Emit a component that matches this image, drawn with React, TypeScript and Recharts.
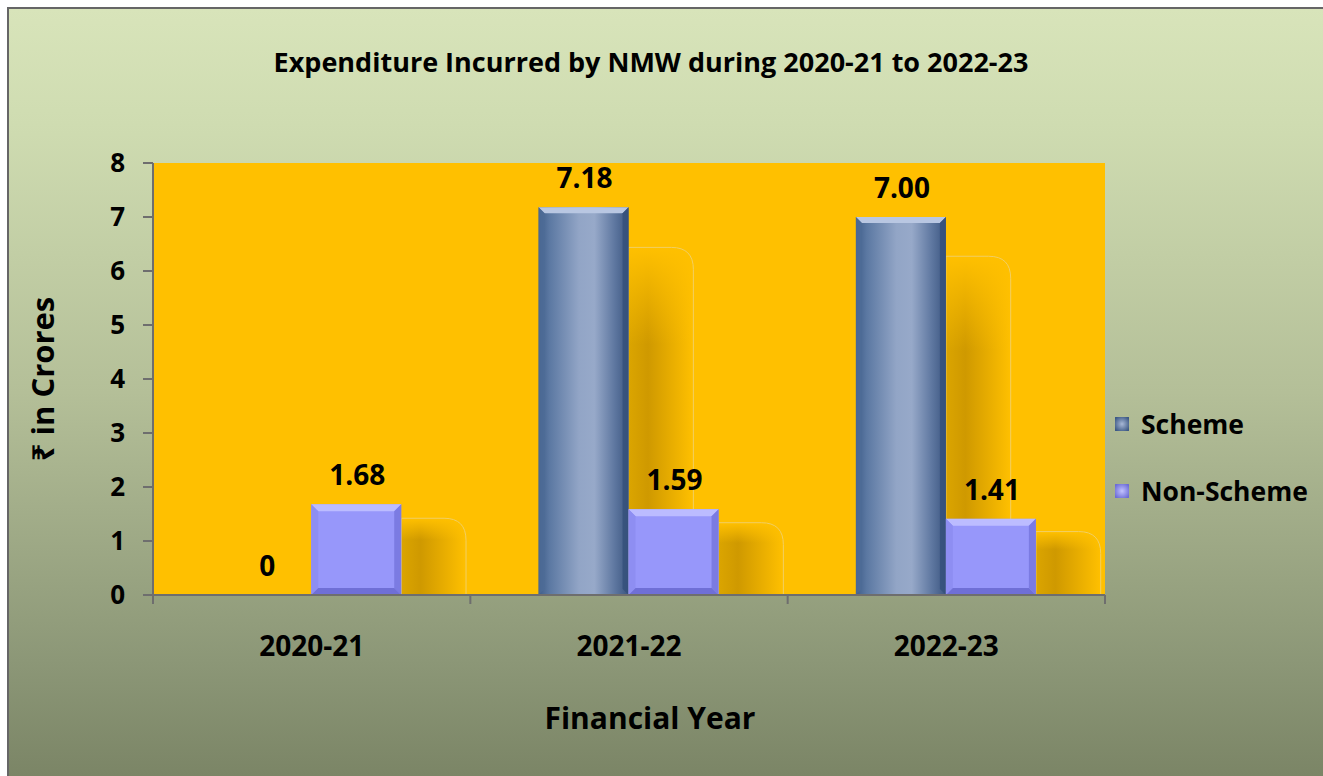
import React from 'react';
import { BarChart, Bar, XAxis, YAxis, CartesianGrid, LabelList, Label } from 'recharts';

const categories = ['2020-21', '2021-22', '2022-23'];
const schemeValues = [0, 7.18, 7.0];
const nonSchemeValues = [1.68, 1.59, 1.41];
const schemeLabels = ['0', '7.18', '7.00'];
const nonSchemeLabels = ['1.68', '1.59', '1.41'];
const yTicks = [0, 1, 2, 3, 4, 5, 6, 7, 8];
const seriesNames = ['Scheme', 'Non-Scheme'];

const data = categories.map((c, i) => ({
  year: c,
  scheme: schemeValues[i],
  nonScheme: nonSchemeValues[i],
}));

const W = 1323;
const H = 776;
const FONT = "'Open Sans', 'Noto Sans', sans-serif";
const MARGIN = { top: 163, right: 218, bottom: 151, left: 93 };
const Y_AXIS_W = 60;
const PLOT_W = W - MARGIN.left - MARGIN.right - Y_AXIS_W;
const HALF_BAND = PLOT_W / categories.length / 2;
const AXIS_COLOR = '#6e6e6e';

function Shadow({ x, y, width, height, id }: any) {
  if (!height || height <= 0) return null;
  const off = 6 + 0.088 * height;
  const sw = width * 0.72;
  const r = Math.min(22, sw * 0.4);
  const x0 = x + width;
  const top = y + off;
  const bot = y + height;
  const d = `M${x0},${top} L${x0 + sw - r},${top} Q${x0 + sw},${top} ${x0 + sw},${top + r} L${x0 + sw},${bot} L${x0},${bot} Z`;
  return (
    <g>
      <defs>
        <linearGradient id={`sh-h-${id}`} x1="0" y1="0" x2="1" y2="0">
          <stop offset="0%" stopColor="#dba500" />
          <stop offset="30%" stopColor="#cf9900" />
          <stop offset="100%" stopColor="#ffc000" />
        </linearGradient>
        <linearGradient id={`sh-v-${id}`} x1="0" y1="0" x2="0" y2="1">
          <stop offset="0%" stopColor="#ffc000" stopOpacity={1} />
          <stop offset="28%" stopColor="#ffc000" stopOpacity={0} />
          <stop offset="100%" stopColor="#ffc000" stopOpacity={0} />
        </linearGradient>
      </defs>
      <path d={d} fill={`url(#sh-h-${id})`} />
      <path d={d} fill={`url(#sh-v-${id})`} stroke="#f2cf63" strokeWidth={1} />
    </g>
  );
}

function SchemeShape(props: any) {
  const { x, y, width, height, index } = props;
  if (!height || height <= 0) return null;
  const b = 6;
  const id = `s${index}`;
  return (
    <g>
      <Shadow x={x} y={y} width={width} height={height} id={id} />
      <defs>
        <linearGradient id={`sg-${id}`} x1="0" y1="0" x2="1" y2="0">
          <stop offset="0%" stopColor="#3f5d89" />
          <stop offset="12%" stopColor="#5b78a2" />
          <stop offset="45%" stopColor="#92a5c6" />
          <stop offset="62%" stopColor="#97a9c9" />
          <stop offset="85%" stopColor="#5d769f" />
          <stop offset="100%" stopColor="#3c5680" />
        </linearGradient>
      </defs>
      <rect x={x} y={y} width={width} height={height} fill={`url(#sg-${id})`} />
      <polygon points={`${x},${y} ${x + width},${y} ${x + width - b},${y + b} ${x + b},${y + b}`} fill="#b9c7e2" />
      <polygon points={`${x},${y} ${x + b},${y + b} ${x + b},${y + height - b} ${x},${y + height}`} fill="#4f6c97" opacity={0.7} />
      <polygon points={`${x + width},${y} ${x + width},${y + height} ${x + width - b},${y + height - b} ${x + width - b},${y + b}`} fill="#34507b" opacity={0.8} />
    </g>
  );
}

function NonSchemeShape(props: any) {
  const { x, y, width, height, index } = props;
  if (!height || height <= 0) return null;
  const b = 7;
  const id = `n${index}`;
  return (
    <g>
      <Shadow x={x} y={y} width={width} height={height} id={id} />
      <rect x={x} y={y} width={width} height={height} fill="#9797fa" />
      <polygon points={`${x},${y} ${x + width},${y} ${x + width - b},${y + b} ${x + b},${y + b}`} fill="#bcbcff" />
      <polygon points={`${x},${y} ${x + b},${y + b} ${x + b},${y + height - b} ${x},${y + height}`} fill="#8e8ef2" />
      <polygon points={`${x + width},${y} ${x + width},${y + height} ${x + width - b},${y + height - b} ${x + width - b},${y + b}`} fill="#7b7be2" />
      <polygon points={`${x},${y + height} ${x + b},${y + height - b} ${x + width - b},${y + height - b} ${x + width},${y + height}`} fill="#6f6fd6" />
    </g>
  );
}

function makeLabel(key: string) {
  return (props: any) => {
    const { x, y, width, index } = props;
    const text = key === 'scheme' ? schemeLabels[index] : nonSchemeLabels[index];
    return (
      <text
        x={x + width / 2 + 1}
        y={y - 30}
        textAnchor="middle"
        dominantBaseline="central"
        fontFamily={FONT}
        fontWeight={700}
        fontSize={28}
        fill="#000"
      >
        {text}
      </text>
    );
  };
}

function XTick(props: any) {
  const { x, y, payload, index } = props;
  return (
    <g>
      <line x1={x - HALF_BAND} y1={y} x2={x - HALF_BAND} y2={y + 9} stroke={AXIS_COLOR} strokeWidth={2} />
      {index === categories.length - 1 && (
        <line x1={x + HALF_BAND} y1={y} x2={x + HALF_BAND} y2={y + 9} stroke={AXIS_COLOR} strokeWidth={2} />
      )}
      <text
        x={x}
        y={y + 50}
        textAnchor="middle"
        dominantBaseline="central"
        fontFamily={FONT}
        fontWeight={700}
        fontSize={28}
        fill="#000"
      >
        {payload.value}
      </text>
    </g>
  );
}

function LegendSquare({ kind }: { kind: string }) {
  const id = `lg-${kind}`;
  const dark = kind === 'Scheme' ? '#3e5a85' : '#6d6dd6';
  const light = kind === 'Scheme' ? '#a8b8d6' : '#c2c2ff';
  return (
    <svg width={14} height={14} style={{ display: 'block' }}>
      <defs>
        <radialGradient id={id} cx="50%" cy="50%" r="60%">
          <stop offset="0%" stopColor={light} />
          <stop offset="100%" stopColor={dark} />
        </radialGradient>
      </defs>
      <rect x={0} y={0} width={14} height={14} fill={`url(#${id})`} />
    </svg>
  );
}

function LegendBox() {
  return (
    <div
      style={{
        position: 'absolute',
        left: 1115,
        top: 406,
        fontFamily: FONT,
        fontWeight: 700,
        fontSize: 26.5,
        color: '#000',
      }}
    >
      {seriesNames.map((n, i) => (
        <div key={n} style={{ display: 'flex', alignItems: 'center', height: 36, marginBottom: i === 0 ? 31 : 0 }}>
          <LegendSquare kind={n} />
          <span style={{ marginLeft: 12, whiteSpace: 'nowrap', lineHeight: '36px' }}>{n}</span>
        </div>
      ))}
    </div>
  );
}

export default function App() {
  return (
    <div style={{ position: 'absolute', left: 0, top: 0, width: W, height: H, background: '#fff', overflow: 'hidden' }}>
      <div
        style={{
          position: 'absolute',
          left: 7,
          top: 7,
          width: W - 7,
          height: H - 7,
          boxSizing: 'border-box',
          borderLeft: '2px solid #666',
          borderTop: '2px solid #666',
          background: 'linear-gradient(to bottom, #d8e4ba 0%, #cfdcb1 15%, #b4bf98 50%, #8c9777 85%, #7b8566 100%)',
        }}
      />
      <div
        style={{
          position: 'absolute',
          left: 0,
          top: 42,
          width: 1302,
          textAlign: 'center',
          fontFamily: FONT,
          fontWeight: 700,
          fontSize: 27,
          color: '#000',
          lineHeight: '40px',
        }}
      >
        Expenditure Incurred by NMW during 2020-21 to 2022-23
      </div>
      <div
        style={{
          position: 'absolute',
          left: 0,
          top: 696,
          width: 1300,
          textAlign: 'center',
          fontFamily: FONT,
          fontWeight: 700,
          fontSize: 30,
          color: '#000',
          lineHeight: '44px',
        }}
      >
        Financial Year
      </div>
      <div style={{ position: 'absolute', left: 0, top: 0 }}>
        <BarChart
          width={W}
          height={H}
          data={data}
          margin={MARGIN}
          barCategoryGap="21.5%"
          barGap={0}
        >
          <CartesianGrid horizontal={false} vertical={false} fill="#ffc000" stroke="none" />
          <XAxis
            dataKey="year"
            axisLine={{ stroke: AXIS_COLOR, strokeWidth: 2 }}
            tickLine={false}
            tickSize={0}
            tickMargin={0}
            tick={<XTick />}
            interval={0}
            height={30}
          />
          <YAxis
            domain={[0, 8]}
            ticks={yTicks}
            width={Y_AXIS_W}
            axisLine={{ stroke: AXIS_COLOR, strokeWidth: 2 }}
            tickLine={{ stroke: AXIS_COLOR, strokeWidth: 2 }}
            tickSize={10}
            tickMargin={18}
            tick={{ fill: '#000', fontFamily: FONT, fontWeight: 700, fontSize: 26 }}
            interval={0}
          >
            <Label
              content={(p: any) => {
                const vb = p.viewBox || {};
                const cx = vb.x - 51;
                const cy = vb.y + vb.height / 2;
                return (
                  <text
                    x={cx}
                    y={cy}
                    transform={`rotate(-90 ${cx} ${cy})`}
                    textAnchor="middle"
                    dominantBaseline="central"
                    fontFamily={FONT}
                    fontWeight={700}
                    fontSize={31}
                    fill="#000"
                  >
                    ₹ in Crores
                  </text>
                );
              }}
            />
          </YAxis>
          <Bar dataKey="scheme" name="Scheme" fill="#5b78a2" shape={<SchemeShape />} isAnimationActive={false}>
            <LabelList dataKey="scheme" content={makeLabel('scheme')} />
          </Bar>
          <Bar dataKey="nonScheme" name="Non-Scheme" fill="#9797fa" shape={<NonSchemeShape />} isAnimationActive={false}>
            <LabelList dataKey="nonScheme" content={makeLabel('nonScheme')} />
          </Bar>
        </BarChart>
      </div>
      <LegendBox />
    </div>
  );
}
